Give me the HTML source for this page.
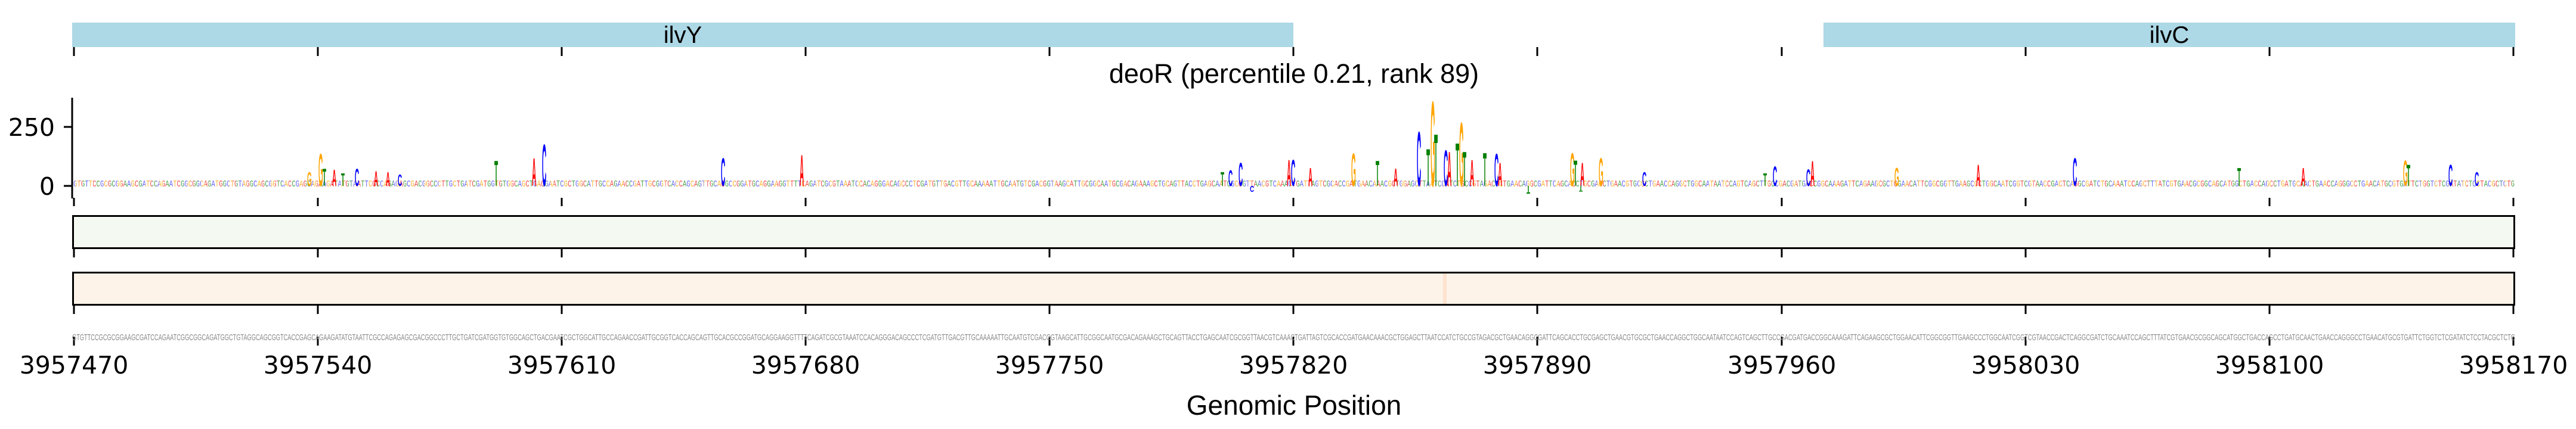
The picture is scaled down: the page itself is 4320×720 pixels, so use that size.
<!DOCTYPE html>
<html><head><meta charset="utf-8"><style>
html,body{margin:0;padding:0;background:#fff;}
svg{display:block;}
.L{font-family:"Liberation Sans",sans-serif;font-weight:bold;font-size:100px;}
</style></head><body>
<svg width="4320" height="720" viewBox="0 0 4320 720" xmlns="http://www.w3.org/2000/svg">
<defs>
<pattern id="pat" patternUnits="userSpaceOnUse" x="121" y="0" width="23.41" height="720">
<rect x="0" y="-400" width="5.86" height="1200" fill="#4040ff"/>
<rect x="5.86" y="-400" width="5.86" height="1200" fill="#ffa500"/>
<rect x="11.72" y="-400" width="5.86" height="1200" fill="#f02020"/>
<rect x="17.58" y="-400" width="5.86" height="1200" fill="#209020"/>
</pattern>
</defs>
<rect width="4320" height="720" fill="#fff"/>
<rect x="121" y="38" width="2048" height="41" fill="#add8e6"/>
<rect x="3058" y="38" width="1160" height="41" fill="#add8e6"/>
<text x="1145" y="72" font-family="Liberation Sans, sans-serif" font-size="40" text-anchor="middle">ilvY</text>
<text x="3638" y="72" font-family="Liberation Sans, sans-serif" font-size="40" text-anchor="middle">ilvC</text>
<text x="2170" y="139" font-family="Liberation Sans, sans-serif" font-size="45" text-anchor="middle">deoR (percentile 0.21, rank 89)</text>
<g stroke="#000" stroke-width="3">
<path d="M124 79v15M533 79v15M942 79v15M1351 79v15M1760 79v15M2169 79v15M2578 79v15M2988 79v15M3397 79v15M3806 79v15M4215 79v15"/>
<path d="M124 332v14M533 332v14M942 332v14M1351 332v14M1760 332v14M2169 332v14M2578 332v14M2988 332v14M3397 332v14M3806 332v14M4215 332v14"/>
<path d="M124 417v15M533 417v15M942 417v15M1351 417v15M1760 417v15M2169 417v15M2578 417v15M2988 417v15M3397 417v15M3806 417v15M4215 417v15"/>
<path d="M124 512v15M533 512v15M942 512v15M1351 512v15M1760 512v15M2169 512v15M2578 512v15M2988 512v15M3397 512v15M3806 512v15M4215 512v15"/>
<path d="M124 565v15M533 565v15M942 565v15M1351 565v15M1760 565v15M2169 565v15M2578 565v15M2988 565v15M3397 565v15M3806 565v15M4215 565v15"/>
<path d="M121 164V333M107 213h14M107 312h14"/>
</g>
<g font-family="DejaVu Sans, sans-serif" font-size="41" text-anchor="end">
<text x="92" y="228">250</text>
<text x="92" y="327">0</text>
</g>
<g transform="translate(0,313) scale(1,1.5)">
<text x="123" y="0" font-family="Liberation Mono, monospace" font-size="9.7" textLength="4094" lengthAdjust="spacingAndGlyphs" fill="url(#pat)" opacity="0.8">GTGTTCCGCGCGGAAGCGATCCAGAATCGGCGGCAGATGGCTGTAGGCAGCGGTCACCGAGCAGAAGATATGTAATTCGCCAGAGAGCGACGGCCCTTGCTGATCGATGGTGTGGCAGCTGACGAATCGCTGGCATTGCCAGAACCGATTGCGGTCACCAGCAGTTGCACGCCGGATGCAGGAAGGTTTTCAGATCGCGTAAATCCACAGGGACAGCCCTCGATGTTGACGTTGCAAAAATTGCAATGTCGACGGTAAGCATTGCGGCAATGCGACAGAAAGCTGCAGTTACCTGAGCAATCGCGGTTAACGTCAAACTGATTAGTCGCACCGATGAACAAACGCTGGAGCTTAATCCATCTGCCGTAGACGCTGAACAGGCGATTCAGCACCTGCGAGCTGAACGTGCGCTGAACCAGGCTGGCAATAATCCAGTCAGCTTGCCGACGATGACCGGCAAAGATTCAGAAGCGCTGGAACATTCGGCGGTTGAAGCCCTGGCAATCGGTCGTAACCGACTCAGGCGATCTGCAAATCCAGCTTTATCGTGAACGCGGCAGCATGGCTGACCAGCCTGATGCAACTGAACCAGGGCCTGAACATGCGTGATTCTGGTCTCGATATCTCCTACGCTCTG</text>
</g>
<g class="L">
<text transform="translate(515,312) scale(0.1,0.33)" fill="orange">G</text>
<text transform="translate(534,312) scale(0.1,0.78)" fill="orange">G</text>
<text transform="translate(541,312) scale(0.1,0.42)" fill="green">T</text>
<text transform="translate(557,312) scale(0.1,0.39)" fill="red">A</text>
<text transform="translate(572,312) scale(0.1,0.31)" fill="green">T</text>
<text transform="translate(595,312) scale(0.1,0.42)" fill="blue">C</text>
<text transform="translate(627,312) scale(0.1,0.35)" fill="red">A</text>
<text transform="translate(647,312) scale(0.1,0.33)" fill="red">A</text>
<text transform="translate(667,312) scale(0.1,0.28)" fill="blue">C</text>
<text transform="translate(829,312) scale(0.1,0.6)" fill="green">T</text>
<text transform="translate(892,312) scale(0.1,0.67)" fill="red">A</text>
<text transform="translate(909,312) scale(0.1,1.0)" fill="blue">C</text>
<text transform="translate(1209,312) scale(0.1,0.67)" fill="blue">C</text>
<text transform="translate(1341,312) scale(0.1,0.75)" fill="red">A</text>
<text transform="translate(2047,312) scale(0.1,0.33)" fill="green">T</text>
<text transform="translate(2060,312) scale(0.1,0.38)" fill="blue">C</text>
<text transform="translate(2077,312) scale(0.1,0.56)" fill="blue">C</text>
<text transform="translate(2158,312) scale(0.1,0.63)" fill="red">A</text>
<text transform="translate(2165,312) scale(0.1,0.63)" fill="blue">C</text>
<text transform="translate(2194,312) scale(0.1,0.44)" fill="red">A</text>
<text transform="translate(2266,312) scale(0.1,0.79)" fill="orange">G</text>
<text transform="translate(2307,312) scale(0.1,0.6)" fill="green">T</text>
<text transform="translate(2337,312) scale(0.1,0.42)" fill="red">A</text>
<text transform="translate(2376,312) scale(0.1,1.31)" fill="blue">C</text>
<text transform="translate(2392,312) scale(0.1,0.89)" fill="green">T</text>
<text transform="translate(2399,312) scale(0.1,2.04)" fill="orange">G</text>
<text transform="translate(2405,312) scale(0.1,1.24)" fill="green">T</text>
<text transform="translate(2421,312) scale(0.1,0.86)" fill="blue">C</text>
<text transform="translate(2427,312) scale(0.1,0.83)" fill="red">A</text>
<text transform="translate(2441,312) scale(0.1,1.03)" fill="green">T</text>
<text transform="translate(2447,312) scale(0.1,1.53)" fill="orange">G</text>
<text transform="translate(2453,312) scale(0.1,0.83)" fill="green">T</text>
<text transform="translate(2465,312) scale(0.1,0.63)" fill="red">A</text>
<text transform="translate(2487,312) scale(0.1,0.8)" fill="green">T</text>
<text transform="translate(2506,312) scale(0.1,0.78)" fill="blue">C</text>
<text transform="translate(2512,312) scale(0.1,0.56)" fill="red">A</text>
<text transform="translate(2633,312) scale(0.1,0.8)" fill="orange">G</text>
<text transform="translate(2639,312) scale(0.1,0.61)" fill="green">T</text>
<text transform="translate(2650,312) scale(0.1,0.56)" fill="red">A</text>
<text transform="translate(2681,312) scale(0.1,0.67)" fill="orange">G</text>
<text transform="translate(2754,312) scale(0.1,0.33)" fill="blue">C</text>
<text transform="translate(2957,312) scale(0.1,0.31)" fill="green">T</text>
<text transform="translate(2973,312) scale(0.1,0.47)" fill="blue">C</text>
<text transform="translate(3029,312) scale(0.1,0.4)" fill="blue">C</text>
<text transform="translate(3036,312) scale(0.1,0.6)" fill="red">A</text>
<text transform="translate(3177,312) scale(0.1,0.44)" fill="orange">G</text>
<text transform="translate(3314,312) scale(0.1,0.51)" fill="red">A</text>
<text transform="translate(3476,312) scale(0.1,0.67)" fill="blue">C</text>
<text transform="translate(3752,312) scale(0.1,0.44)" fill="green">T</text>
<text transform="translate(3859,312) scale(0.1,0.44)" fill="red">A</text>
<text transform="translate(4030,312) scale(0.1,0.61)" fill="orange">G</text>
<text transform="translate(4036,312) scale(0.1,0.51)" fill="green">T</text>
<text transform="translate(4106,312) scale(0.1,0.51)" fill="blue">C</text>
<text transform="translate(4150,312) scale(0.1,0.33)" fill="blue">C</text>
<text transform="translate(2096,312) scale(0.1,-0.15)" fill="blue">C</text>
<text transform="translate(2560,312) scale(0.1,-0.18)" fill="green">T</text>
<text transform="translate(2648,312) scale(0.1,-0.14)" fill="green">T</text>
</g>
<rect x="122.5" y="362.5" width="4094" height="54" fill="#f4faf1" stroke="#000" stroke-width="3"/>
<rect x="122.5" y="457.5" width="4094" height="54" fill="#fef3e8" stroke="#000" stroke-width="3"/>
<rect x="2420" y="459" width="6" height="51" fill="#fde3cf"/>
<text x="121" y="571" font-family="Liberation Sans Narrow, Liberation Sans, sans-serif" font-size="15" fill="#888" textLength="4097" lengthAdjust="spacingAndGlyphs">GTGTTCCGCGCGGAAGCGATCCAGAATCGGCGGCAGATGGCTGTAGGCAGCGGTCACCGAGCAGAAGATATGTAATTCGCCAGAGAGCGACGGCCCTTGCTGATCGATGGTGTGGCAGCTGACGAATCGCTGGCATTGCCAGAACCGATTGCGGTCACCAGCAGTTGCACGCCGGATGCAGGAAGGTTTTCAGATCGCGTAAATCCACAGGGACAGCCCTCGATGTTGACGTTGCAAAAATTGCAATGTCGACGGTAAGCATTGCGGCAATGCGACAGAAAGCTGCAGTTACCTGAGCAATCGCGGTTAACGTCAAACTGATTAGTCGCACCGATGAACAAACGCTGGAGCTTAATCCATCTGCCGTAGACGCTGAACAGGCGATTCAGCACCTGCGAGCTGAACGTGCGCTGAACCAGGCTGGCAATAATCCAGTCAGCTTGCCGACGATGACCGGCAAAGATTCAGAAGCGCTGGAACATTCGGCGGTTGAAGCCCTGGCAATCGGTCGTAACCGACTCAGGCGATCTGCAAATCCAGCTTTATCGTGAACGCGGCAGCATGGCTGACCAGCCTGATGCAACTGAACCAGGGCCTGAACATGCGTGATTCTGGTCTCGATATCTCCTACGCTCTG</text>
<g font-family="DejaVu Sans, sans-serif" font-size="41" text-anchor="middle">
<text x="124" y="627">3957470</text>
<text x="533" y="627">3957540</text>
<text x="942" y="627">3957610</text>
<text x="1351" y="627">3957680</text>
<text x="1760" y="627">3957750</text>
<text x="2169" y="627">3957820</text>
<text x="2578" y="627">3957890</text>
<text x="2988" y="627">3957960</text>
<text x="3397" y="627">3958030</text>
<text x="3806" y="627">3958100</text>
<text x="4215" y="627">3958170</text>
</g>
<text x="2170" y="696" font-family="Liberation Sans, sans-serif" font-size="46" text-anchor="middle">Genomic Position</text>
</svg>
</body></html>
